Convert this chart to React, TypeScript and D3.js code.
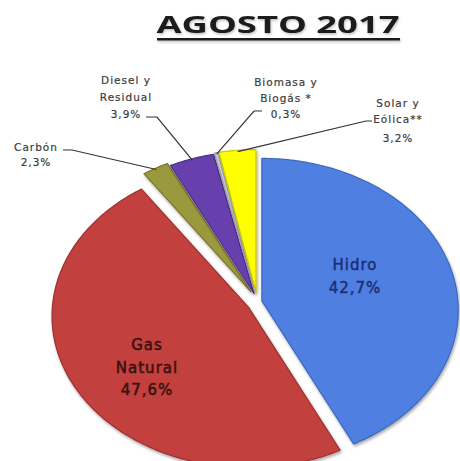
import React from "react";
import * as d3 from "d3";

const categories = ["Hidro", "Gas Natural", "Carbón", "Diesel y Residual", "Biomasa y Biogás *", "Solar y Eólica**"];
const values = [42.7, 47.6, 2.3, 3.9, 0.3, 3.2];
const labelLines = [
  ["Hidro", "42,7%"],
  ["Gas", "Natural", "47,6%"],
  ["Carbón", "2,3%"],
  ["Diesel y", "Residual", "3,9%"],
  ["Biomasa y", "Biogás *", "0,3%"],
  ["Solar y", "Eólica**", "3,2%"],
];
const title = "AGOSTO 2017";

// styles / layout (separate from data)
const colors = ["#4f80e1", "#c2403e", "#9b993c", "#6840ae", "#c9c9d2", "#ffff00"];
const strokes = ["#3d67bd", "#9e3030", "#78762c", "#4e2e88", "#a0a0aa", "#c8c800"];
const textColors = ["#1c2f78", "#3a1010"];
const explode = [5, 10, 12, 9, 10, 10];
const W = 460, H = 461;
const CX = 257, CY = 302, RX = 196, RY = 151, P = 0.06;

const labelLayout: { x: number; ys: number[]; leader?: [number, number][]; inside?: boolean }[] = [
  { x: 355, ys: [270, 293], inside: true },
  { x: 147, ys: [350, 373, 395], inside: true },
  { x: 36, ys: [151, 166], leader: [[63, 150], [72, 150]] },
  { x: 126, ys: [84, 101, 118], leader: [[146, 117], [157, 117]] },
  { x: 286, ys: [86, 102, 118], leader: [[262, 111], [254, 111]] },
  { x: 398, ys: [107, 123, 142], leader: [[372, 121], [366, 121]] },
];

function project(theta: number, r: number) {
  const u = Math.sin(theta) * r;
  const v = -Math.cos(theta) * r;
  const s = 1 / (1 - P * v);
  return [RX * u * s, RY * v * s];
}

export default function App() {
  const pie = d3.pie<number>().sort(null).value((d) => d).startAngle(0).endAngle(2 * Math.PI);
  const arcs = pie(values);

  const slices = arcs.map((a, i) => {
    const mid = (a.startAngle + a.endAngle) / 2;
    const ox = CX + explode[i] * Math.sin(mid);
    const oy = CY - explode[i] * Math.cos(mid);
    const n = Math.max(4, Math.ceil(((a.endAngle - a.startAngle) * 180) / Math.PI));
    const pts: [number, number][] = [[ox, oy]];
    d3.range(n + 1).forEach((k) => {
      const t = a.startAngle + ((a.endAngle - a.startAngle) * k) / n;
      const [px, py] = project(t, 1);
      pts.push([ox + px, oy + py]);
    });
    const line = d3.line().curve(d3.curveLinearClosed);
    const [ex, ey] = project(mid, 0.99);
    return { d: line(pts) as string, end: [ox + ex, oy + ey] as [number, number], i };
  });

  const labelFont = "'DejaVu Sans', Verdana, sans-serif";

  return (
    <div style={{ position: "absolute", left: 0, top: 0 }}>
      <svg width={W} height={H} style={{ display: "block", background: "#fff" }}>
        <defs>
          <filter id="sh" x="-10%" y="-10%" width="130%" height="130%">
            <feDropShadow dx="1" dy="2" stdDeviation="1.6" floodColor="#000" floodOpacity="0.35" />
          </filter>
          <filter id="tsh" x="-5%" y="-20%" width="110%" height="150%">
            <feDropShadow dx="1" dy="1.5" stdDeviation="1" floodColor="#000" floodOpacity="0.25" />
          </filter>
        </defs>
        <g filter="url(#tsh)">
          <text
            x={278}
            y={33}
            textAnchor="middle"
            fontFamily="'Open Sans', 'DejaVu Sans', sans-serif"
            fontWeight="bold"
            fontSize={23}
            textLength={243}
            lengthAdjust="spacingAndGlyphs"
            fill="#1a1a1a"
          >
            {title}
          </text>
          <rect x={157} y={38} width={243} height={2.5} fill="#1a1a1a" />
        </g>
        {slices.map((s) => (
          <path
            key={categories[s.i]}
            d={s.d}
            fill={colors[s.i]}
            stroke={strokes[s.i]}
            strokeWidth={1.2}
            strokeLinejoin="round"
            filter="url(#sh)"
          />
        ))}
        {labelLayout.map((L, i) =>
          L.leader ? (
            <polyline
              key={"ld" + i}
              points={[...L.leader, slices[i].end].map((p) => p.join(",")).join(" ")}
              fill="none"
              stroke="#333"
              strokeWidth={1.2}
            />
          ) : null
        )}
        {labelLayout.map((L, i) => (
          <g key={"lb" + i}>
            {labelLines[i].map((t, k) => (
              <text
                key={k}
                x={L.x}
                y={L.ys[k]}
                textAnchor="middle"
                fontFamily={labelFont}
                fontWeight="normal"
                fontSize={L.inside ? 15 : 10.5}
                letterSpacing={1}
                fill={L.inside ? textColors[i] : "#3c3c3c"}
                stroke={L.inside ? textColors[i] : "#3c3c3c"}
                strokeWidth={L.inside ? 0.5 : 0.2}
              >
                {t}
              </text>
            ))}
          </g>
        ))}
      </svg>
    </div>
  );
}
